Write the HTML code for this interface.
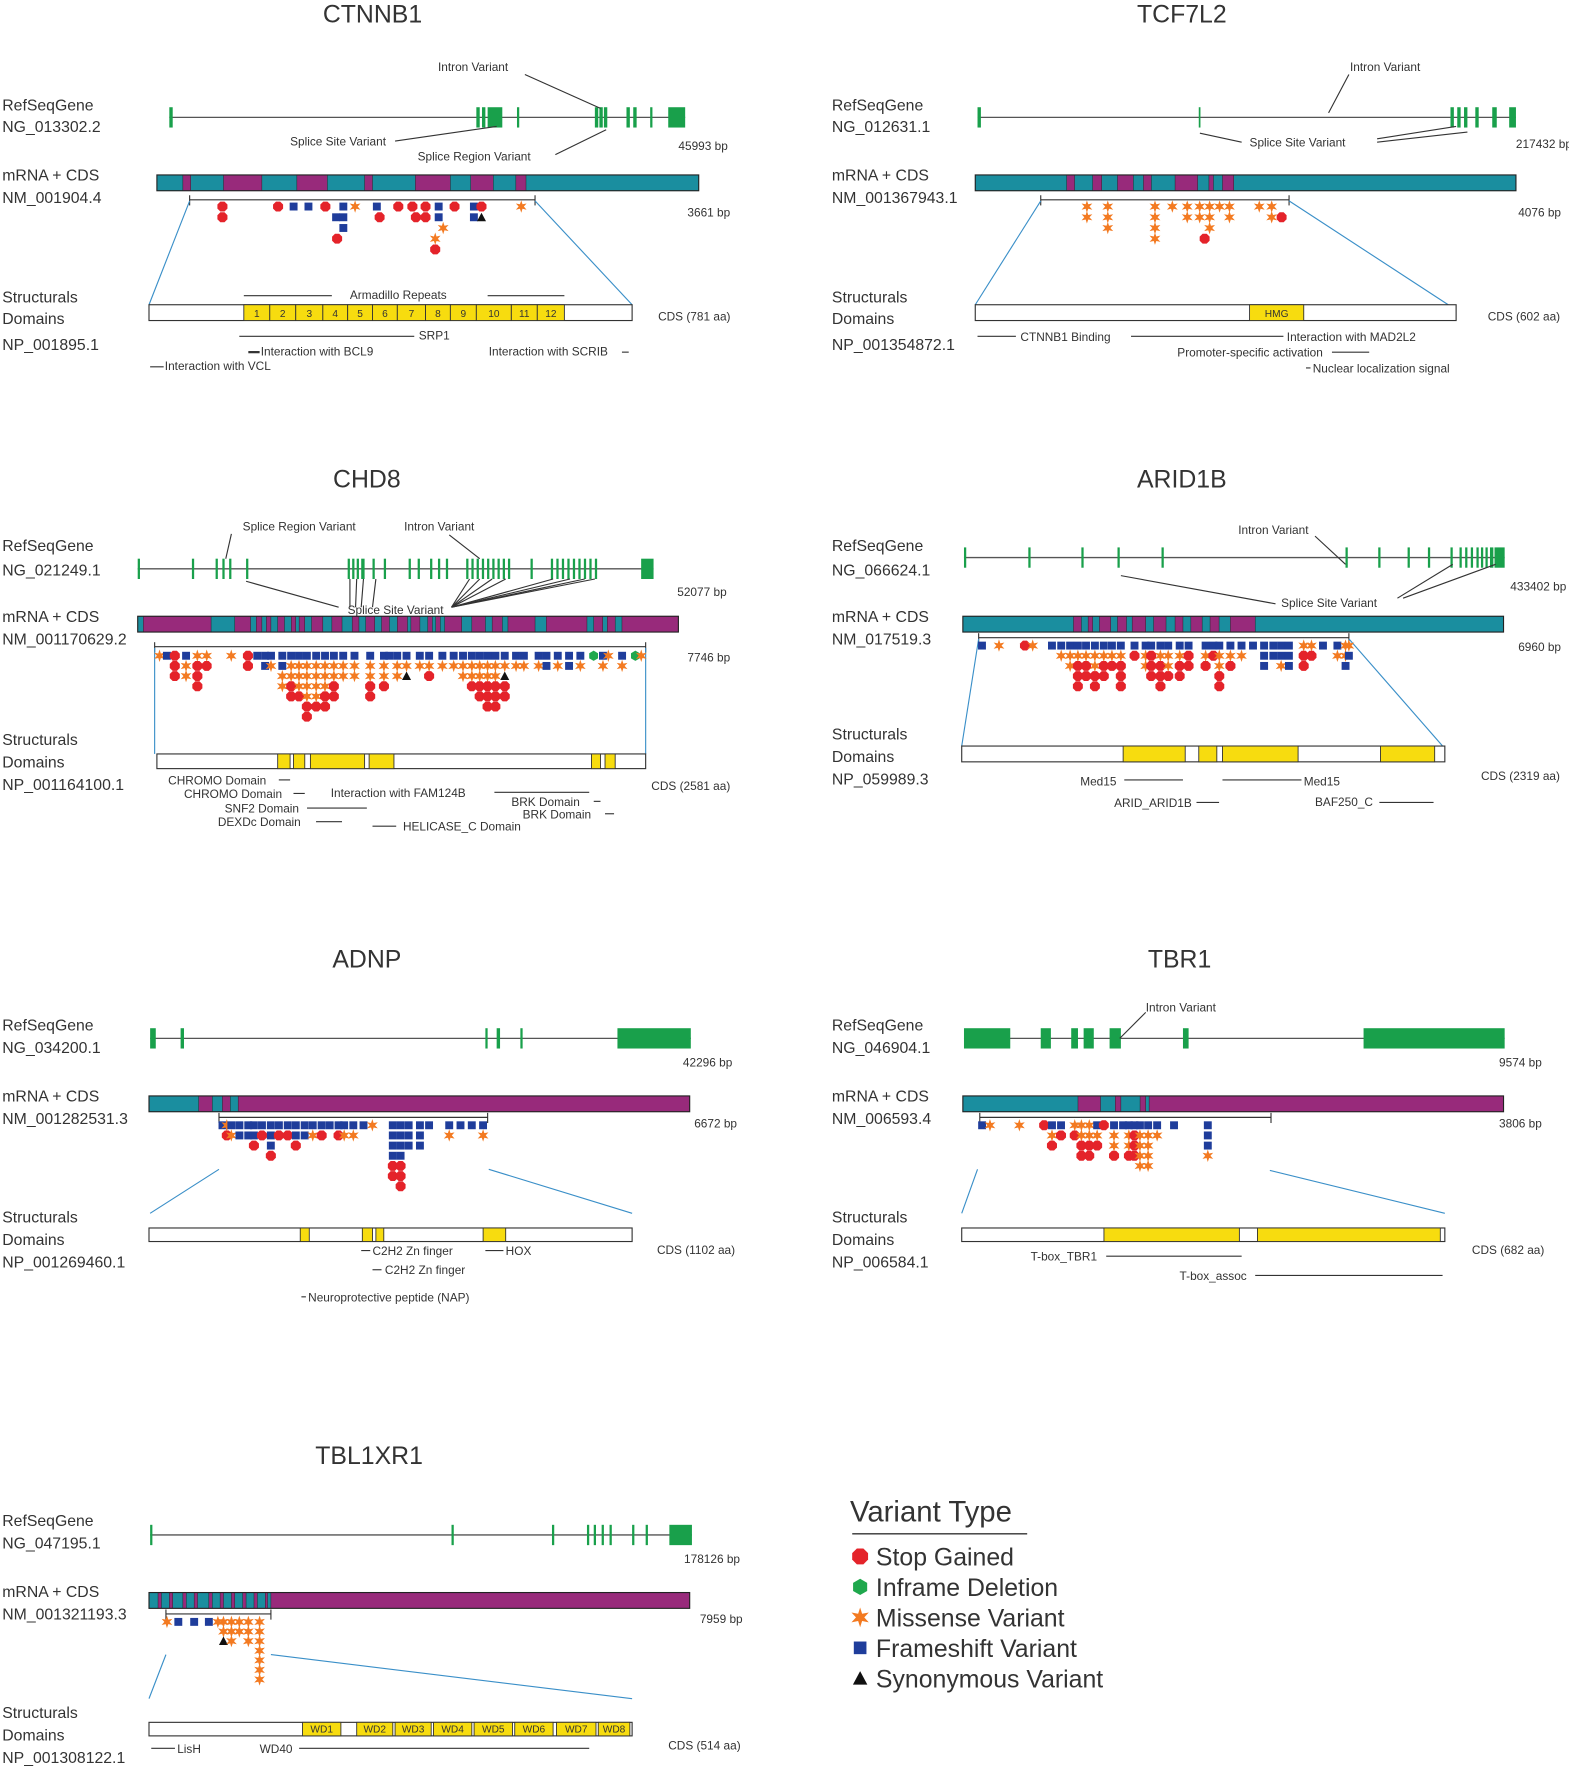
<!DOCTYPE html>
<html><head><meta charset="utf-8"><style>
html,body{margin:0;padding:0;background:#fff;}
svg{display:block;}
text{font-family:"Liberation Sans",sans-serif;fill:#333;}
</style></head><body>
<svg id="fig" xmlns="http://www.w3.org/2000/svg" width="1569" height="1772" viewBox="0 0 1390 1570" preserveAspectRatio="none"></svg>
<script>
// ---- variant data: column position (% of CDS bracket) and stacked variant types top-down
// s=stop gained, i=inframe deletion, m=missense, f=frameshift, y=synonymous, -=empty
const ctnnb1Pos = [9.5,25.6,30.1,34.4,39.3,42.4,42.7,44.5,47.9,54.2,55,60.4,64.5,65.5,68.3,71.1,72.1,73.4,76.7,82.3,84.5,96];
const ctnnb1Stacks = ['ss','s','f','f','s','-f','---s','fff','m','f','-s','s','s','-s','ss','---ms','ff','--m','s','ff','sy','m'];
const tcf7l2Pos = [18.6,27,46,53,59,64,66,68,72,76,88,93,97];
const tcf7l2Stacks = ['mm','mmm','mmmm','m','mm','mm','---s','mmm','m','mm','m','mm','-s'];
const chd8Pos = [1,2.5,4.1,6.4,8.7,10.6,15.6,19,20.9,22.5,23.7,26,27.8,29.4,31,32.9,34.7,36.5,38.4,40.7,43.9,46.7,47.8,49.4,51.3,54,55.9,58.6,60.9,62.8,64.6,66.2,67.8,69.4,71.3,73.6,75.2,78.2,79.8,82.1,84.4,86.7,89.4,91.3,92.4,95.2,97.9,99.1];
const chd8Stacks = ['m','f','sss','fmm','msss','ms','m','ss','f','ff','fm','ffmm','fmmss','fmmms','fmmmmss','fmmmms','fmmmss','fmmss','fmm','fmm','fmmss','fmms','f','fmm','fmy','fm','fms','fm','fm','fmm','fmms','fmmss','fmmsss','fmmsss','fmyss','fm','fm','fm','ff','fm','ff','fm','i','fm','m','fm','i','m'];
const arid1bPos = [0.9,5.5,12.5,14.6,19.8,22.3,24.7,26.8,29,31.4,33.8,36,38.4,42.1,45.1,46.6,49.1,51.2,54.3,56.7,61.3,63.4,65,68,71,74.1,77.1,79.6,81.7,83.8,87.8,89.9,93,96.9,99.1,100];
const arid1bStacks = ['f','m','s','m','f','fm','fmm','fmsss','fmss','fmmss','fmss','fms','fmsss','fs','fmm','fsss','fmsss','fmms','fmss','fss','fms','fs','fmmss','fms','fm','f','fff','ff','ffm','fff','mss','ms','f','fm','mmf','mf'];
const adnpPos = [1.3,2.9,4.6,7.6,10.9,13,16,19.3,22.3,25.6,28.6,31.9,34.9,38.2,41.2,44.5,46.6,50,53.8,57.1,64.7,67.6,70.6,74.8,78.2,85.7,89.9,94.1,98.3];
const adnpStacks = ['f','ms','fm','ff','ff','ffs','fs','fffs','fs','fs','ffs','ff','fm','fs','f','fs','fm','fm','f','m','ffffss','ffffsss','fff','fff','f','fm','f','f','fm'];
const tbr1Pos = [0.8,3.5,13.6,22.1,24.8,27.9,32.6,34.9,37.6,40.3,42.6,46.1,49.2,51.2,53.1,55,57.8,60.9,66.7,78.3];
const tbr1Stacks = ['f','m','m','s','fms','fs','ms','mmss','mmss','fms','s','fmms','f','fmms','fsss','fmmmm','fmmmm','fm','f','fffm'];
const tbl1xr1Pos = [1,11.8,26.9,40.9,49.5,54.8,62.4,69.9,78.5,89.2];
const tbl1xr1Stacks = ['m','f','f','f','m','mmy','mmm','mm','mmm','mmmmmmm'];

const NS='http://www.w3.org/2000/svg';
const svg=document.getElementById('fig');
const C={green:'#19a04b',teal:'#1a8e9f',purple:'#982a7b',yellow:'#f7dc0f',red:'#e4232a',orange:'#f37a21',blue:'#1f3d9b',igreen:'#1fa84d',blk:'#111',line:'#444',bl:'#3a8fc8'};
const SM=10.5;

function mk(tag,attrs,name,parent){
  const e=document.createElementNS(NS,tag);
  for(const k in attrs) e.setAttribute(k,attrs[k]);
  
  
  (parent||svg).appendChild(e);
  return e;
}
function txt(s,x,y,size,name,g,anchor){
  const t=mk('text',{x:x,y:y,'font-size':size,'text-anchor':anchor||'start'},name,g);
  t.textContent=s;return t;
}
function ln(x1,y1,x2,y2,name,g,color,w){
  return mk('line',{x1:x1,y1:y1,x2:x2,y2:y2,stroke:color||C.line,'stroke-width':w||1},name,g);
}
function starPts(cx,cy,ro,ri){
  let p=[];for(let k=0;k<12;k++){const r=k%2?ri:ro;const a=Math.PI/6*k-Math.PI/2;p.push((cx+r*Math.cos(a)).toFixed(1)+','+(cy+r*Math.sin(a)).toFixed(1));}
  return p.join(' ');
}
function polyPts(cx,cy,r,n,rot){let p=[];for(let k=0;k<n;k++){const a=2*Math.PI*k/n+rot;p.push((cx+r*Math.cos(a)).toFixed(1)+','+(cy+r*Math.sin(a)).toFixed(1));}return p.join(' ');}
function marker(type,cx,cy,g){
  if(type==='s') return mk('polygon',{points:polyPts(cx,cy,4.8,8,Math.PI/8),fill:C.red},'stop-gained-marker',g);
  if(type==='i') return mk('polygon',{points:polyPts(cx,cy,4.5,6,Math.PI/2),fill:C.igreen},'inframe-deletion-marker',g);
  if(type==='m') return mk('polygon',{points:starPts(cx,cy,5.5,2.3),fill:C.orange},'missense-marker',g);
  if(type==='f') return mk('rect',{x:cx-3.5,y:cy-3.5,width:7,height:7,fill:C.blue},'frameshift-marker',g);
  if(type==='y') return mk('polygon',{points:(cx-4)+','+(cy+3.5)+' '+(cx+4)+','+(cy+3.5)+' '+cx+','+(cy-4),fill:C.blk},'synonymous-marker',g);
}

function drawPanel(p,pos,stacks){
  const g=mk('g',{},p.name+'-panel');
  txt(p.title,p.tx,p.ty,22,p.name+'-title',g,'middle');
  p.labels.forEach(l=>txt(l[0],p.lx,l[1],14,'track-label',g));
  ln(p.gene.x1,p.gene.y,p.gene.x2,p.gene.y,'gene-intron-line',g,'#555',1.2);
  p.gene.exons.forEach(e=>mk('rect',{x:e[0],y:p.gene.y-9,width:e[1],height:18,fill:C.green},'exon',g));
  (p.callouts||[]).forEach(c=>txt(c[0],c[1],c[2],SM,'variant-callout-label',g));
  (p.clines||[]).forEach(c=>ln(c[0],c[1],c[2],c[3],'callout-line',g,'#333',1));
  txt(p.geneBp[0],p.geneBp[1],p.geneBp[2],SM,'gene-length-label',g);
  const m=p.mrna;
  mk('rect',{x:m.x1,y:m.y,width:m.x2-m.x1,height:14,fill:m.base},'mrna-bar',g);
  m.segs.forEach(s=>mk('rect',{x:s[0],y:m.y,width:s[1]-s[0],height:14,fill:m.seg,stroke:'#222','stroke-width':0.4},'mrna-exon-segment',g));
  mk('rect',{x:m.x1,y:m.y,width:m.x2-m.x1,height:14,fill:'none',stroke:'#222','stroke-width':1},'mrna-outline',g);
  const b=p.br;
  ln(b.x1,b.y,b.x2,b.y,'cds-bracket',g,'#333',1);
  ln(b.x1,b.y-4,b.x1,b.y+5,'cds-bracket-start',g,'#333',1);
  ln(b.x2,b.y-4,b.x2,b.y+5,'cds-bracket-end',g,'#333',1);
  txt(p.cdsBp[0],p.cdsBp[1],p.cdsBp[2],SM,'cds-length-label',g);
  p.blue.forEach(l=>ln(l[0],l[1],l[2],l[3],'zoom-guide-line',g,C.bl,1));
  const d=p.dom;
  mk('rect',{x:d.x1,y:d.y,width:d.x2-d.x1,height:d.h,fill:'#fff',stroke:'#333','stroke-width':1},'protein-bar',g);
  d.yellow.forEach(y=>{
    mk('rect',{x:y[0],y:d.y,width:y[1]-y[0],height:d.h,fill:C.yellow,stroke:'#333','stroke-width':0.8},'protein-domain',g);
    if(y[2]) txt(y[2],(y[0]+y[1])/2,d.y+d.h-3,9,'domain-label',g,'middle');
  });
  txt(p.cdsAa[0],p.cdsAa[1],p.cdsAa[2],SM,'protein-length-label',g);
  p.ann.forEach(a=>txt(a[0],a[1],a[2],SM,'domain-annotation',g));
  p.alines.forEach(a=>ln(a[0],a[2],a[1],a[2],'annotation-line',g,'#333',a[3]||1));
  const xs=v=>b.x1+v/100*(b.x2-b.x1);
  const ys=r=>b.y+p.r0+r*p.dy;
  pos.forEach((v,i)=>{
    const st=stacks[i];
    for(let r=0;r<st.length;r++){ if(st[r]!=='-') marker(st[r],xs(v),ys(r),g); }
  });
}

function even(a,b,n,w){let r=[];for(let k=0;k<n;k++)r.push([a+(b-a)*k/(n-1),w]);return r;}

drawPanel({name:'ctnnb1',title:'CTNNB1',tx:330,ty:20,lx:2,
 labels:[['RefSeqGene',98],['NG_013302.2',117],['mRNA + CDS',160],['NM_001904.4',180],['Structurals',268],['Domains',287],['NP_001895.1',310]],
 gene:{y:104,x1:150,x2:607,exons:[[150,3],[422,3],[427,3],[432,13],[458,2],[527,3],[531,3],[535,3],[555,3],[561,3],[576,2],[592,15]]},
 callouts:[['Intron Variant',388,63],['Splice Site Variant',257,129],['Splice Region Variant',370,142]],
 clines:[[465,66,532,96],[350,125,440,112],[492,137,537,115]],
 geneBp:['45993 bp',601,133],
 mrna:{y:155,x1:139,x2:619,base:C.teal,seg:C.purple,segs:[[162,169],[198,232],[263,290],[323,330],[368,399],[417,437],[457,466]]},
 br:{x1:168,x2:474,y:177},cdsBp:['3661 bp',609,192],
 blue:[[168,178,132,270],[474,178,560,270]],
 dom:{y:270,h:14,x1:132,x2:560,yellow:[[216,239,'1'],[239,262,'2'],[262,286,'3'],[286,308,'4'],[308,330,'5'],[330,352,'6'],[352,377,'7'],[377,399,'8'],[399,422,'9'],[422,453,'10'],[453,476,'11'],[476,500,'12']]},
 cdsAa:['CDS (781 aa)',583,284],
 ann:[['Armadillo Repeats',310,265],['SRP1',371,301],['Interaction with BCL9',231,315],['Interaction with SCRIB',433,315],['Interaction with VCL',146,328]],
 alines:[[216,294,262],[432,500,262],[212,367,298],[220,230,312,2],[551,557,312],[133,145,325]],
 r0:6,dy:9.5},ctnnb1Pos,ctnnb1Stacks);

drawPanel({name:'tcf7l2',title:'TCF7L2',tx:1047,ty:20,lx:737,
 labels:[['RefSeqGene',98],['NG_012631.1',117],['mRNA + CDS',160],['NM_001367943.1',180],['Structurals',268],['Domains',287],['NP_001354872.1',310]],
 gene:{y:104,x1:866,x2:1343,exons:[[866,3],[1062,1.5],[1285,3],[1291,3],[1297,3],[1307,3],[1322,4],[1337,6]]},
 callouts:[['Intron Variant',1196,63],['Splice Site Variant',1107,130]],
 clines:[[1195,66,1177,100],[1063,118,1100,126],[1220,126,1300,117],[1220,123,1290,112]],
 geneBp:['217432 bp',1343,131],
 mrna:{y:155,x1:864,x2:1343,base:C.teal,seg:C.purple,segs:[[945,952],[968,976],[990,1004],[1013,1020],[1041,1061],[1071,1075],[1083,1093]]},
 br:{x1:922,x2:1142,y:177},cdsBp:['4076 bp',1345,192],
 blue:[[922,178,864,270],[1142,178,1283,270]],
 dom:{y:270,h:14,x1:864,x2:1290,yellow:[[1107,1155,'HMG']]},
 cdsAa:['CDS (602 aa)',1318,284],
 ann:[['CTNNB1 Binding',904,302],['Interaction with MAD2L2',1140,302],['Promoter-specific activation',1043,316],['Nuclear localization signal',1163,330]],
 alines:[[866,900,298],[1002,1137,298],[1180,1213,312],[1157,1161,326]],
 r0:6,dy:9.5},tcf7l2Pos,tcf7l2Stacks);

drawPanel({name:'chd8',title:'CHD8',tx:325,ty:432,lx:2,
 labels:[['RefSeqGene',488],['NG_021249.1',510],['mRNA + CDS',551],['NM_001170629.2',571],['Structurals',660],['Domains',680],['NP_001164100.1',700]],
 gene:{y:504,x1:122,x2:579,exons:[[122,2],[170,2],[191,2],[197,2],[203,2],[218,2],[308,2],[312,2],[316,2],[320,3],[330,2],[340,2],[362,2],[370,2],[381,2],[388,2],[395,2]].concat(even(413,450,9,2)).concat([[470,2]]).concat(even(488,527,9,2)).concat([[568,11]])},
 callouts:[['Splice Region Variant',215,470],['Intron Variant',358,470],['Splice Site Variant',308,544]],
 clines:[[205,473,200,495],[398,474,425,495],[218,515,300,538],[310,538,310,513],[315,538,316,513],[320,538,322,513],[330,538,333,513],[400,538,416,513],[400,538,425,513],[400,538,436,513],[400,538,448,513],[400,538,490,513],[400,538,505,513],[400,538,518,513],[400,538,527,513]],
 geneBp:['52077 bp',600,528],
 mrna:{y:546,x1:122,x2:601,base:C.purple,seg:C.teal,segs:[[122,127],[187,208],[222,227],[232,236],[240,246],[252,258],[262,265],[270,276],[286,294],[303,312],[318,324],[332,338],[345,352],[361,364],[372,379],[383,386],[390,394],[409,418],[430,436],[445,450],[474,484],[520,526],[534,538],[545,551]]},
 br:{x1:137,x2:572,y:573},cdsBp:['7746 bp',609,586],
 blue:[[137,574,137,668],[572,574,572,668]],
 dom:{y:668,h:13,x1:139,x2:572,yellow:[[246,257],[260,270],[275,323],[327,349],[524,532],[536,545]]},
 cdsAa:['CDS (2581 aa)',577,700],
 ann:[['CHROMO Domain',149,695],['CHROMO Domain',163,707],['Interaction with FAM124B',293,706],['SNF2 Domain',199,720],['DEXDc Domain',193,732],['HELICASE_C Domain',357,736],['BRK Domain',453,714],['BRK Domain',463,725]],
 alines:[[247,257,691],[260,270,703],[272,325,716],[280,303,728],[330,351,732],[438,522,702],[526,532,710],[536,544,721]],
 r0:8,dy:9},chd8Pos,chd8Stacks);

drawPanel({name:'arid1b',title:'ARID1B',tx:1047,ty:432,lx:737,
 labels:[['RefSeqGene',488],['NG_066624.1',510],['mRNA + CDS',551],['NM_017519.3',571],['Structurals',655],['Domains',675],['NP_059989.3',695]],
 gene:{y:494,x1:854,x2:1333,exons:[[854,2],[911,2],[958,2],[990,2],[1029,2],[1192,2],[1221,2],[1247,2],[1265,2],[1285,2],[1293,2],[1298,2],[1303,2],[1308,2],[1312,2],[1316,2],[1320,3],[1324,9]]},
 callouts:[['Intron Variant',1097,473],['Splice Site Variant',1135,538]],
 clines:[[1165,475,1192,500],[993,510,1130,535],[1238,530,1287,500],[1243,530,1325,500]],
 geneBp:['433402 bp',1338,523],
 mrna:{y:546,x1:853,x2:1332,base:C.teal,seg:C.purple,segs:[[951,958],[964,968],[974,984],[990,998],[1003,1015],[1022,1033],[1041,1048],[1055,1065],[1072,1080],[1090,1112]]},
 br:{x1:867,x2:1195,y:565},cdsBp:['6960 bp',1345,577],
 blue:[[867,566,852,661],[1195,566,1278,661]],
 dom:{y:661,h:14,x1:852,x2:1280,yellow:[[995,1050],[1062,1078],[1083,1150],[1223,1271]]},
 cdsAa:['CDS (2319 aa)',1312,691],
 ann:[['Med15',957,696],['Med15',1155,696],['ARID_ARID1B',987,715],['BAF250_C',1165,714]],
 alines:[[996,1048,691],[1083,1153,691],[1060,1080,711],[1222,1270,711]],
 r0:7,dy:9},arid1bPos,arid1bStacks);

drawPanel({name:'adnp',title:'ADNP',tx:325,ty:857,lx:2,
 labels:[['RefSeqGene',913],['NG_034200.1',933],['mRNA + CDS',976],['NM_001282531.3',996],['Structurals',1083],['Domains',1103],['NP_001269460.1',1123]],
 gene:{y:920,x1:133,x2:612,exons:[[133,5],[160,3],[430,2],[440,3],[461,2],[547,65]]},
 callouts:[],clines:[],
 geneBp:['42296 bp',605,945],
 mrna:{y:971,x1:132,x2:611,base:C.purple,seg:C.teal,segs:[[132,176],[188,197],[204,211]]},
 br:{x1:194,x2:432,y:990},cdsBp:['6672 bp',615,999],
 blue:[[194,1036,133,1075],[433,1036,560,1075]],
 dom:{y:1088,h:12,x1:132,x2:560,yellow:[[266,274],[321,330],[333,340],[428,448]]},
 cdsAa:['CDS (1102 aa)',582,1111],
 ann:[['C2H2 Zn finger',330,1112],['HOX',448,1112],['C2H2 Zn finger',341,1129],['Neuroprotective peptide (NAP)',273,1153]],
 alines:[[320,328,1108],[430,446,1108],[330,338,1125],[267,271,1149]],
 r0:7,dy:9},adnpPos,adnpStacks);

drawPanel({name:'tbr1',title:'TBR1',tx:1045,ty:857,lx:737,
 labels:[['RefSeqGene',913],['NG_046904.1',933],['mRNA + CDS',976],['NM_006593.4',996],['Structurals',1083],['Domains',1103],['NP_006584.1',1123]],
 gene:{y:920,x1:854,x2:1333,exons:[[854,41],[922,9],[949,6],[960,9],[983,10],[1048,5],[1208,125]]},
 callouts:[['Intron Variant',1015,896]],clines:[[1015,897,992,920]],
 geneBp:['9574 bp',1328,945],
 mrna:{y:971,x1:853,x2:1332,base:C.purple,seg:C.teal,segs:[[853,955],[975,988],[993,1010],[1015,1018]]},
 br:{x1:868,x2:1126,y:990},cdsBp:['3806 bp',1328,999],
 blue:[[866,1036,852,1075],[1125,1037,1280,1075]],
 dom:{y:1088,h:12,x1:852,x2:1280,yellow:[[978,1098],[1114,1276]]},
 cdsAa:['CDS (682 aa)',1304,1111],
 ann:[['T-box_TBR1',913,1117],['T-box_assoc',1045,1134]],
 alines:[[980,1100,1113],[1112,1278,1130]],
 r0:7,dy:9},tbr1Pos,tbr1Stacks);

drawPanel({name:'tbl1xr1',title:'TBL1XR1',tx:327,ty:1297,lx:2,
 labels:[['RefSeqGene',1352],['NG_047195.1',1372],['mRNA + CDS',1415],['NM_001321193.3',1435],['Structurals',1522],['Domains',1542],['NP_001308122.1',1562]],
 gene:{y:1360,x1:133,x2:613,exons:[[133,2],[400,2],[489,2],[520,2],[526,2],[533,2],[540,2],[560,2],[572,2],[593,20]]},
 callouts:[],clines:[],
 geneBp:['178126 bp',606,1385],
 mrna:{y:1411,x1:132,x2:611,base:C.purple,seg:C.teal,segs:[[132,140],[143,150],[153,162],[165,172],[175,185],[188,195],[198,205],[208,215],[218,225],[228,235],[237,240]]},
 br:{x1:147,x2:240,y:1430},cdsBp:['7959 bp',620,1438],
 blue:[[147,1466,132,1505],[240,1466,560,1505]],
 dom:{y:1526,h:12,x1:132,x2:560,yellow:[[268,302,'WD1'],[316,348,'WD2'],[350,382,'WD3'],[384,418,'WD4'],[420,454,'WD5'],[456,490,'WD6'],[493,528,'WD7'],[530,558,'WD8']]},
 cdsAa:['CDS (514 aa)',592,1550],
 ann:[['LisH',157,1553],['WD40',230,1553]],
 alines:[[134,155,1549],[265,522,1549]],
 r0:7,dy:8.5},tbl1xr1Pos,tbl1xr1Stacks);

const lg=mk('g',{},'legend');
txt('Variant Type',753,1348,26,'legend-title',lg);
ln(755,1359,910,1359,'legend-underline',lg,'#333',1.2);
const legTypes=['s','i','m','f','y'];
const legLabels=['Stop Gained','Inframe Deletion','Missense Variant','Frameshift Variant','Synonymous Variant'];
legTypes.forEach((t,i)=>{
  const y=1380+i*27;
  const e=marker(t,762,y-1,lg);
  e.setAttribute('transform','translate(762 '+(y-1)+') scale(1.6) translate(-762 '+(-(y-1))+')');
  txt(legLabels[i],776,y+7,22,'legend-entry',lg);
});
</script>
</body></html>
